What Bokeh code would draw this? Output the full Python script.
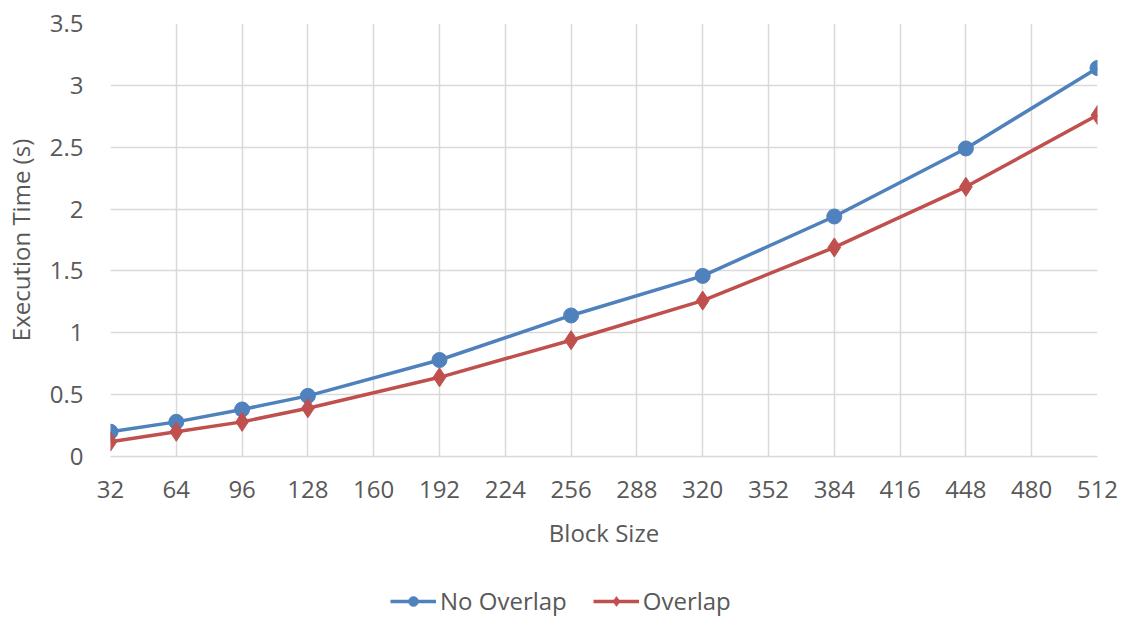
from bokeh.plotting import figure
from bokeh.models import FixedTicker, Range1d, Legend, LegendItem
from bokeh.layouts import column
from bokeh.embed import file_html
from bokeh.resources import INLINE

block_size = [32, 64, 96, 128, 192, 256, 320, 384, 448, 512]
no_overlap = [0.20, 0.28, 0.38, 0.49, 0.78, 1.14, 1.46, 1.94, 2.49, 3.14]
overlap = [0.12, 0.20, 0.28, 0.39, 0.64, 0.94, 1.26, 1.69, 2.18, 2.76]
x_ticks = [32, 64, 96, 128, 160, 192, 224, 256, 288, 320, 352, 384, 416, 448, 480, 512]
y_ticks = [0, 0.5, 1, 1.5, 2, 2.5, 3, 3.5]
y_tick_labels = ["0", "0.5", "1", "1.5", "2", "2.5", "3", "3.5"]
series_names = ["No Overlap", "Overlap"]

FONT = "Open Sans"
FS = "24px"
TXT = "#595959"
GRID = "#d9d9d9"
BLUE = "#4f81bd"
RED = "#c0504d"

p = figure(width=1122, height=568, output_backend="svg", toolbar_location=None,
           x_range=Range1d(32, 512), y_range=Range1d(0, 3.5))
p.min_border_left = 108
p.min_border_right = 25
p.min_border_top = 23
p.min_border_bottom = 112
p.outline_line_color = None
p.background_fill_color = "white"

p.xaxis.ticker = FixedTicker(ticks=x_ticks)
p.yaxis.ticker = FixedTicker(ticks=y_ticks)
p.yaxis.major_label_overrides = {t: l for t, l in zip(y_ticks, y_tick_labels)}

for ax in (p.xaxis, p.yaxis):
    ax.major_tick_out = 0
    ax.major_tick_in = 0
    ax.minor_tick_out = 0
    ax.minor_tick_in = 0
    ax.major_label_text_font = FONT
    ax.major_label_text_font_size = FS
    ax.major_label_text_color = TXT
    ax.axis_label_text_font = FONT
    ax.axis_label_text_font_size = FS
    ax.axis_label_text_color = TXT
    ax.axis_label_text_font_style = "normal"

p.xaxis.axis_line_color = GRID
p.xaxis.axis_line_width = 1.5
p.yaxis.axis_line_color = None
p.xaxis.major_label_standoff = 24
p.xaxis.axis_label_standoff = 15
p.yaxis.major_label_standoff = 27
p.yaxis.axis_label_standoff = 10
p.xaxis.axis_label = "Block Size"
p.yaxis.axis_label = "Execution Time (s)"

p.xgrid.grid_line_color = GRID
p.ygrid.grid_line_color = GRID
p.xgrid.grid_line_width = 1.5
p.ygrid.grid_line_width = 1.5

p.line(block_size, no_overlap, line_color=BLUE, line_width=3.5)
p.scatter(block_size, no_overlap, marker="circle", size=15, fill_color=BLUE, line_color=BLUE)
p.line(block_size, overlap, line_color=RED, line_width=3.5)
p.scatter(block_size, overlap, marker="diamond", size=19, fill_color=RED, line_color=RED)

# legend strip below the chart (its own renderers sit outside its visible range)
q = figure(width=1122, height=49, output_backend="svg", toolbar_location=None,
           x_range=Range1d(10000, 10001), y_range=Range1d(10000, 10001),
           x_axis_type=None, y_axis_type=None)
q.min_border = 0
q.outline_line_color = None
q.xgrid.visible = False
q.ygrid.visible = False
ql1 = q.line(block_size, no_overlap, line_color=BLUE, line_width=3.5)
qm1 = q.scatter(block_size, no_overlap, marker="circle", size=15, fill_color=BLUE, line_color=BLUE)
ql2 = q.line(block_size, overlap, line_color=RED, line_width=3.5)
qm2 = q.scatter(block_size, overlap, marker="diamond", size=19, fill_color=RED, line_color=RED)

legend = Legend(items=[LegendItem(label=series_names[0], renderers=[ql1, qm1]),
                       LegendItem(label=series_names[1], renderers=[ql2, qm2])],
                orientation="horizontal", location=(280, 0))
legend.label_text_font = FONT
legend.label_text_font_size = FS
legend.label_text_color = TXT
legend.border_line_color = None
legend.background_fill_alpha = 0
legend.glyph_width = 46
legend.glyph_height = 24
legend.label_standoff = 4
legend.spacing = 26
legend.margin = 0
legend.padding = 0
q.add_layout(legend, "center")

layout = column(p, q, spacing=0)
open("out.html", "w").write(file_html(layout, INLINE))
